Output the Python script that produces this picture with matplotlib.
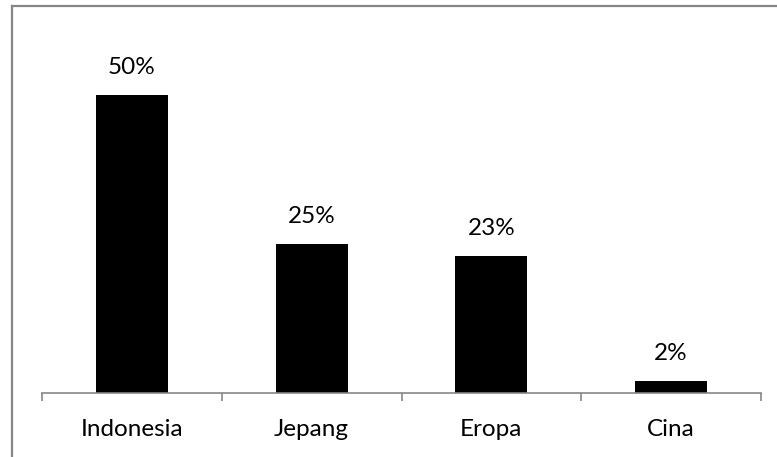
import matplotlib
matplotlib.use("Agg")
import matplotlib.pyplot as plt
from matplotlib.lines import Line2D

# data
countries = ["Indonesia", "Jepang", "Eropa", "Cina"]
shares = [50, 25, 23, 2]
labels = ["50%", "25%", "23%", "2%"]

plt.rcParams['font.family'] = ['Lato', 'DejaVu Sans']

W, H = 777, 457
fig = plt.figure(figsize=(W / 100, H / 100), dpi=100)

# plot area in pixels: x 42..761, axis line at y=393, top for 60%
x0, x1 = 42, 761
y_axis = 393
per_pct = 5.96
top = y_axis - 60 * per_pct
ax = fig.add_axes([x0 / W, 1 - y_axis / H, (x1 - x0) / W, (y_axis - top) / H])

pos = list(range(len(countries)))
ax.bar(pos, shares, width=0.4, color="black")
ax.set_xlim(-0.5, len(countries) - 0.5)
ax.set_ylim(0, 60)

for p, v, lab in zip(pos, shares, labels):
    ax.annotate(lab, (p, v), xytext=(0, 12), textcoords="offset points",
                ha="center", va="bottom", fontsize=17.5, color="black")

for s in ["top", "right", "left"]:
    ax.spines[s].set_visible(False)
ax.spines["bottom"].set_color("#868686")
ax.spines["bottom"].set_linewidth(1.2)
ax.set_yticks([])

# ticks at category boundaries, labels centred
ax.set_xticks([-0.5, 0.5, 1.5, 2.5, 3.5])
ax.set_xticklabels([])
ax.tick_params(axis="x", which="major", direction="out", length=6,
               width=1.2, color="#868686")
ax.set_xticks(pos, minor=True)
ax.set_xticklabels(countries, minor=True, fontsize=17.5)
ax.tick_params(axis="x", which="minor", length=0, pad=19)

# chart frame, only top and left edges visible (cropped)
fig.add_artist(Line2D([12 / W, 12 / W], [0, 1 - 6 / H], color="#868686", lw=1.6))
fig.add_artist(Line2D([12 / W, 1], [1 - 6 / H, 1 - 6 / H], color="#868686", lw=1.6))

fig.savefig("out.png", dpi=100)
